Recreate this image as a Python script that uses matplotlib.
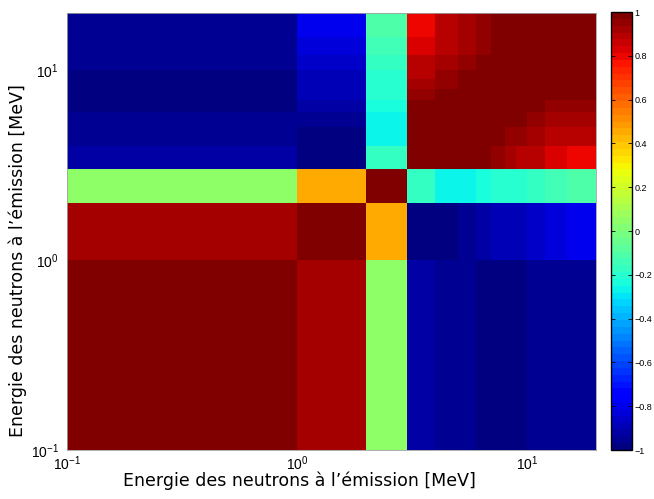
import numpy as np
import matplotlib
matplotlib.use("Agg")
import matplotlib.pyplot as plt
from matplotlib.ticker import FixedLocator, FuncFormatter, LogFormatterMathtext

plt.rcParams['font.family'] = ['Liberation Sans', 'DejaVu Sans']
plt.rcParams['mathtext.fontset'] = 'custom'
plt.rcParams['mathtext.rm'] = 'Liberation Sans'
plt.rcParams['mathtext.it'] = 'Liberation Sans:italic'
plt.rcParams['mathtext.bf'] = 'Liberation Sans:bold'

# Energy bin edges (MeV)
energy_edges = [0.1, 1, 2, 3, 4, 5, 6, 7, 8, 9, 10, 12, 15, 20]

# Correlations among the three low-energy bins (upper triangle rows)
low_block = [
    [1.00, 0.92, 0.06],
    [1.00, 0.45],
    [1.00],
]
# Correlations of the low bins with the ten high bins (3-4 ... 15-20 MeV)
bin0_vs_high = [-0.93, -0.94, -0.955, -0.97, -0.97, -0.97, -0.97, -0.955, -0.95, -0.94]
bin1_vs_high = [-1.00, -0.985, -0.955, -0.93, -0.90, -0.89, -0.88, -0.86, -0.83, -0.79]
bin2_vs_high = [-0.18, -0.27, -0.27, -0.23, -0.21, -0.19, -0.19, -0.17, -0.14, -0.11]
# Correlations among high bins (upper triangle rows)
high_block = [
    [1.00, 1.00, 0.97, 0.97, 0.94, 0.92, 0.90, 0.89, 0.83, 0.81],
    [1.00, 1.00, 0.987, 0.97, 0.955, 0.94, 0.93, 0.90, 0.89],
    [1.00, 1.00, 0.99, 0.98, 0.97, 0.955, 0.93, 0.93],
    [1.00, 1.00, 0.99, 0.98, 0.97, 0.955, 0.955],
    [1.00, 1.00, 0.99, 0.98, 0.985, 0.97],
    [1.00, 1.00, 0.99, 0.99, 0.985],
    [1.00, 1.00, 1.00, 1.00],
    [1.00, 1.00, 1.00],
    [1.00, 1.00],
    [1.00],
]

n = len(energy_edges) - 1
C = np.zeros((n, n))
for i, row in enumerate(low_block):
    for k, v in enumerate(row):
        C[i, i + k] = v
for i, row in enumerate([bin0_vs_high, bin1_vs_high, bin2_vs_high]):
    for k, v in enumerate(row):
        C[i, 3 + k] = v
for i, row in enumerate(high_block):
    for k, v in enumerate(row):
        C[3 + i, 3 + i + k] = v
C = np.triu(C) + np.triu(C, 1).T

fig = plt.figure(figsize=(6.54, 4.99), dpi=100)
ax = fig.add_axes([67/654, 49/499, 529/654, 437/499])
cmap = plt.get_cmap('jet', 64)
mesh = ax.pcolormesh(energy_edges, energy_edges, C, cmap=cmap, vmin=-1, vmax=1,
                     shading='flat', edgecolors='none', antialiased=False)
ax.set_xscale('log')
ax.set_yscale('log')
ax.set_xlim(0.1, 20)
ax.set_ylim(0.1, 20)
ax.xaxis.set_major_locator(FixedLocator([0.1, 1, 10]))
ax.yaxis.set_major_locator(FixedLocator([0.1, 1, 10]))
ax.xaxis.set_major_formatter(LogFormatterMathtext())
ax.yaxis.set_major_formatter(LogFormatterMathtext())
ax.minorticks_off()
ax.tick_params(axis='x', length=0, labelsize=10, pad=3)
ax.tick_params(axis='y', length=0, labelsize=10, pad=6)
for s in ax.spines.values():
    s.set_color('#a0a0a0')
    s.set_linewidth(0.6)

label = "Energie des neutrons à l’émission [MeV]"
ax.set_xlabel(label, fontsize=12.5, family=['DejaVu Sans'])
ax.set_ylabel(label, fontsize=12.5, family=['DejaVu Sans'])
ax.xaxis.set_label_coords((299 - 67) / 529, (450 - 472) / 437)
ax.yaxis.set_label_coords((27 - 67) / 529, (450 - 261) / 437)

cax = fig.add_axes([611/654, 49/499, 21/654, 438/499])
cb = fig.colorbar(mesh, cax=cax)
cb.set_ticks(np.arange(-1, 1.01, 0.2))
cb.ax.yaxis.set_major_formatter(FuncFormatter(
    lambda v, p: ('%g' % (round(v, 1) + 0.0)).replace('-', '\u2212')))
cb.ax.tick_params(direction='in', length=3, width=0.6, labelsize=6.5, left=True, right=True, pad=2)
cb.outline.set_linewidth(1.0)

fig.savefig('out.png', dpi=100)
